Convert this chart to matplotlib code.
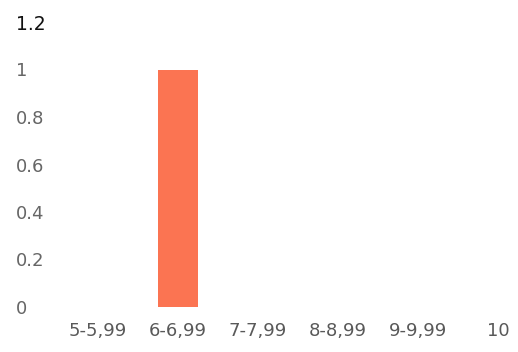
import matplotlib
matplotlib.use("Agg")
import matplotlib.pyplot as plt

categories = ["5-5,99", "6-6,99", "7-7,99", "8-8,99", "9-9,99", "10"]
values = [0, 1, 0, 0, 0, 0]
yticks = [0, 0.2, 0.4, 0.6, 0.8, 1, 1.2]
ytick_labels = ["0", "0.2", "0.4", "0.6", "0.8", "1", "1.2"]

W, H = 518, 352
fig = plt.figure(figsize=(W / 100, H / 100), dpi=100)
plt.rcParams['font.family'] = ['DejaVu Sans']

left_px, right_px = 58, 518
bottom_px, top_px = 352 - 307, 352 - 22
ax = fig.add_axes([left_px / W, bottom_px / H, (right_px - left_px) / W, (top_px - bottom_px) / H])
x = list(range(len(categories)))
ax.bar(x, values, width=0.49, color="#FB7452")
ax.set_xlim(-0.5, -0.5 + (right_px - left_px) / 80)
ax.set_ylim(0, 1.2)
ax.set_xticks(x)
ax.set_xticklabels(categories, fontsize=13, color="#595959")
ax.set_yticks(yticks)
ax.set_yticklabels(ytick_labels, fontsize=13, color="#666666")
for lab in ax.get_yticklabels():
    lab.set_ha("left")
top = ax.get_yticklabels()[-1]
top.set_color("#111111")
top.set_fontsize(13.5)
ax.tick_params(axis="y", length=0, pad=(left_px - 16) * 0.72)
ax.tick_params(axis="x", length=0, pad=11)
for s in ax.spines.values():
    s.set_visible(False)
ax.set_facecolor("white")
fig.savefig("out.png", dpi=100, facecolor="white")
